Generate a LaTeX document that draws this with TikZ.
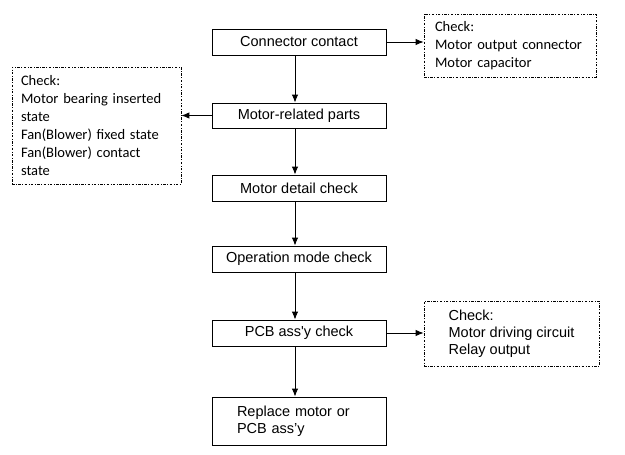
\documentclass[tikz,border=0pt]{standalone}
\usepackage{fontspec}
\setmainfont{Liberation Sans}
\newfontfamily\calibri{Carlito}
\usetikzlibrary{arrows.meta}

\tikzset{
  stepbox/.style={draw, line width=0.9pt, minimum width=174pt, minimum height=26pt,
    inner sep=0pt, font=\fontsize{14.5}{17.5}\selectfont},
  checkbox/.style={draw, dash pattern=on 2.5pt off 1.5pt on 0.8pt off 1.5pt, line width=0.8pt,
    align=left, inner sep=0pt},
  flow/.style={-{Latex[length=8pt, width=6.5pt]}, line width=0.9pt},
}

\begin{document}
\begin{tikzpicture}[x=1pt, y=-1pt]
	\useasboundingbox (0,0) rectangle (625,455);

	% main steps
	\node[stepbox] (cc) at (299,42) {Connector contact};
	\node[stepbox, minimum height=25pt] (mr) at (299,115.5) {Motor-related parts};
	\node[stepbox] (md) at (299,188) {Motor detail check};
	\node[stepbox] (om) at (299,259) {Operation mode check};
	\node[stepbox] (pcb) at (299,333) {PCB ass\textquotesingle y check};
	\node[stepbox, minimum height=48pt, text width=124pt, align=left, inner xsep=25pt] (rp) at (299,421)
		{Replace motor or\\PCB ass’y};

	% check notes
	\node[checkbox, font=\calibri\fontsize{14.5}{18}\selectfont, text width=150pt, inner xsep=11pt,
		minimum height=63pt] (chk1) at (510,45.5)
		{Check:\\Motor output connector\\Motor capacitor};
	\node[checkbox, font=\calibri\fontsize{14.5}{18}\selectfont, text width=151pt, inner xsep=9pt,
		minimum height=117pt] (chk2) at (96.5,125.5)
		{Check:\\Motor bearing inserted\\state\\Fan(Blower) fixed state\\Fan(Blower) contact\\state};
	\node[checkbox, font=\fontsize{14.5}{17}\selectfont, minimum width=175pt,
		minimum height=65pt] (chk3) at (511.5,333.5)
		{Check:\\Motor driving circuit\\Relay output};

	% flow
	\draw[flow] ([xshift=-4pt]cc.south) -- ([xshift=-4pt]mr.north);
	\draw[flow] ([xshift=-4pt]mr.south) -- ([xshift=-4pt]md.north);
	\draw[flow] ([xshift=-4pt]md.south) -- ([xshift=-4pt]om.north);
	\draw[flow] ([xshift=-4pt]om.south) -- ([xshift=-4pt]pcb.north);
	\draw[flow] ([xshift=-4pt]pcb.south) -- ([xshift=-4pt]rp.north);

	\draw[flow] (cc.east) -- (cc.east -| chk1.west);
	\draw[flow] (mr.west) -- (mr.west -| chk2.east);
	\draw[flow] (pcb.east) -- (pcb.east -| chk3.west);
\end{tikzpicture}
\end{document}
